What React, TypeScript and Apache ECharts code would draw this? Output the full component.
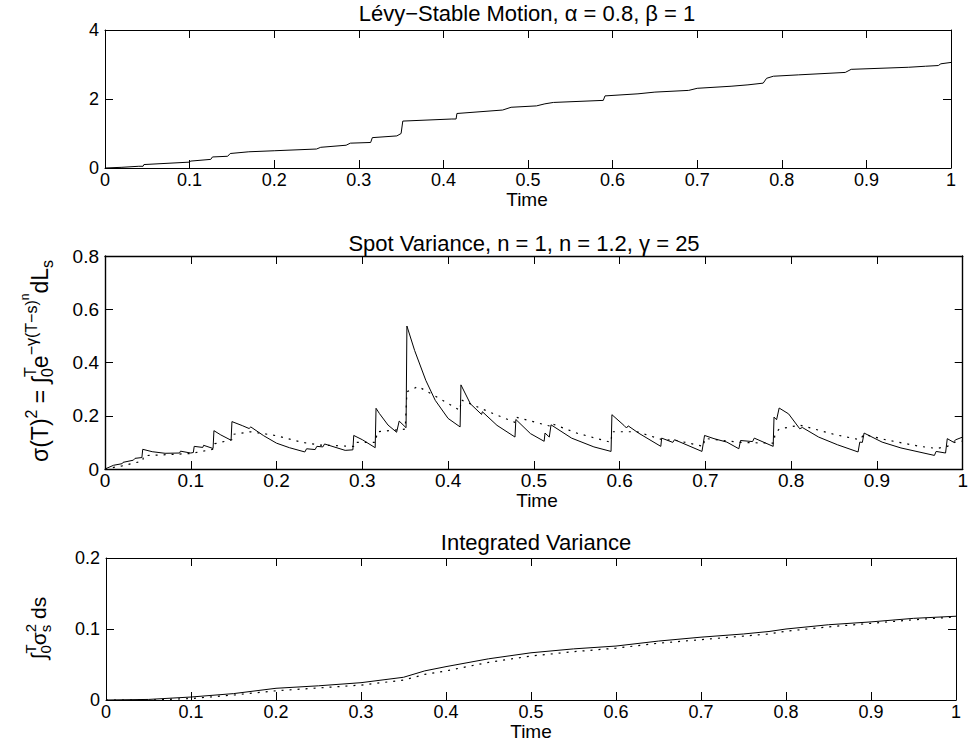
import React, { useEffect, useRef } from "react";
import * as echarts from "echarts";

const FONT_NAME = "Liberation Sans";
const FONT = '"Liberation Sans", Arial, Helvetica, sans-serif';

// ---- Top panel: Lévy-stable motion (alpha = 0.8, beta = 1)
const levyT = [0, 0.02, 0.04, 0.045, 0.046, 0.1, 0.101, 0.125, 0.127, 0.145, 0.148, 0.17, 0.2, 0.25, 0.255, 0.285, 0.29, 0.314, 0.316, 0.345, 0.35, 0.352, 0.41, 0.415, 0.416, 0.47, 0.48, 0.51, 0.52, 0.53, 0.589, 0.591, 0.63, 0.65, 0.69, 0.7, 0.74, 0.76, 0.778, 0.782, 0.79, 0.82, 0.875, 0.882, 0.95, 0.97, 0.985, 0.988, 1];
const levyL = [0, 0.02, 0.05, 0.05, 0.1, 0.17, 0.2, 0.25, 0.32, 0.34, 0.42, 0.47, 0.5, 0.55, 0.6, 0.66, 0.72, 0.74, 0.88, 0.93, 1.0, 1.36, 1.42, 1.42, 1.58, 1.68, 1.76, 1.8, 1.86, 1.9, 1.96, 2.09, 2.15, 2.2, 2.25, 2.31, 2.37, 2.41, 2.46, 2.6, 2.66, 2.7, 2.77, 2.86, 2.92, 2.95, 2.97, 3.02, 3.06];

// ---- Middle panel: spot variance, eta = 1 (solid)
const spotT1 = [0, 0.01, 0.02, 0.021, 0.033, 0.035, 0.043, 0.044, 0.055, 0.07, 0.087, 0.088, 0.1, 0.103, 0.104, 0.114, 0.115, 0.126, 0.127, 0.135, 0.147, 0.148, 0.16, 0.168, 0.17, 0.185, 0.2, 0.215, 0.233, 0.235, 0.245, 0.247, 0.254, 0.256, 0.28, 0.289, 0.29, 0.3, 0.315, 0.316, 0.32, 0.33, 0.34, 0.343, 0.351, 0.352, 0.361, 0.374, 0.385, 0.4, 0.414, 0.415, 0.426, 0.439, 0.44, 0.457, 0.478, 0.479, 0.496, 0.512, 0.513, 0.518, 0.52, 0.544, 0.57, 0.59, 0.591, 0.605, 0.608, 0.61, 0.622, 0.648, 0.649, 0.662, 0.664, 0.696, 0.699, 0.71, 0.725, 0.739, 0.741, 0.755, 0.757, 0.779, 0.78, 0.783, 0.786, 0.797, 0.81, 0.813, 0.832, 0.854, 0.878, 0.88, 0.883, 0.885, 0.906, 0.928, 0.967, 0.969, 0.98, 0.982, 0.989, 0.992, 1.0];
const spotV1 = [0, 0.014, 0.02, 0.025, 0.033, 0.04, 0.043, 0.074, 0.065, 0.059, 0.06, 0.067, 0.06, 0.062, 0.085, 0.081, 0.089, 0.077, 0.144, 0.128, 0.108, 0.178, 0.163, 0.152, 0.158, 0.125, 0.097, 0.08, 0.064, 0.076, 0.073, 0.085, 0.083, 0.094, 0.07, 0.072, 0.126, 0.11, 0.08, 0.228, 0.208, 0.165, 0.138, 0.18, 0.155, 0.537, 0.445, 0.333, 0.258, 0.19, 0.158, 0.316, 0.245, 0.205, 0.215, 0.164, 0.12, 0.186, 0.133, 0.104, 0.135, 0.12, 0.166, 0.116, 0.083, 0.066, 0.204, 0.164, 0.154, 0.162, 0.135, 0.085, 0.116, 0.1, 0.11, 0.066, 0.126, 0.114, 0.101, 0.076, 0.107, 0.103, 0.116, 0.085, 0.195, 0.185, 0.229, 0.207, 0.151, 0.156, 0.12, 0.091, 0.064, 0.101, 0.1, 0.135, 0.101, 0.079, 0.051, 0.066, 0.06, 0.114, 0.101, 0.11, 0.12];

// ---- Middle panel: spot variance, eta = 1.2 (dotted)
const spotT2 = [0, 0.02, 0.044, 0.045, 0.1, 0.127, 0.128, 0.148, 0.149, 0.17, 0.2, 0.23, 0.25, 0.29, 0.291, 0.316, 0.317, 0.35, 0.352, 0.365, 0.39, 0.414, 0.415, 0.44, 0.478, 0.479, 0.52, 0.521, 0.55, 0.59, 0.591, 0.62, 0.65, 0.665, 0.698, 0.699, 0.74, 0.78, 0.781, 0.786, 0.81, 0.85, 0.88, 0.885, 0.91, 0.95, 0.97, 0.982, 0.99, 1.0];
const spotV2 = [0, 0.012, 0.03, 0.05, 0.058, 0.075, 0.095, 0.11, 0.13, 0.14, 0.125, 0.1, 0.09, 0.085, 0.1, 0.1, 0.14, 0.15, 0.29, 0.31, 0.265, 0.22, 0.26, 0.225, 0.175, 0.195, 0.16, 0.17, 0.135, 0.1, 0.14, 0.14, 0.11, 0.108, 0.085, 0.115, 0.1, 0.097, 0.13, 0.15, 0.165, 0.13, 0.11, 0.13, 0.11, 0.085, 0.077, 0.085, 0.1, 0.105];

// ---- Bottom panel: integrated variance
const intT = [0, 0.05, 0.1, 0.15, 0.2, 0.25, 0.3, 0.35, 0.375, 0.4, 0.45, 0.5, 0.55, 0.6, 0.65, 0.7, 0.75, 0.78, 0.8, 0.85, 0.9, 0.95, 1.0];
const intV1 = [0, 0.0008, 0.0042, 0.009, 0.0165, 0.02, 0.0244, 0.032, 0.041, 0.047, 0.058, 0.0665, 0.072, 0.076, 0.083, 0.0885, 0.093, 0.0965, 0.1, 0.106, 0.11, 0.115, 0.118];
const intV2 = [0, 0.0, 0.002, 0.007, 0.013, 0.017, 0.021, 0.028, 0.036, 0.041, 0.053, 0.062, 0.068, 0.073, 0.08, 0.085, 0.09, 0.093, 0.097, 0.103, 0.108, 0.113, 0.117];

// ---- Axis ticks
const xMin = 0, xMax = 1, xStep = 0.1;
const topY = { min: 0, max: 4, step: 2 };
const midY = { min: 0, max: 0.8, step: 0.2 };
const botY = { min: 0, max: 0.2, step: 0.1 };

const titles = [
  "Lévy−Stable Motion, α = 0.8, β = 1",
  "Spot Variance, n = 1, n = 1.2, γ = 25",
  "Integrated Variance",
];
const xName = "Time";

const pair = (xs: number[], ys: number[]) => xs.map((x, i) => [x, ys[i]]);
const fmt = (v: number) => String(+v.toFixed(3));

type Piece = { t: string; s: number; b?: number; adv?: number };

function measurer() {
  const c = document.createElement("canvas");
  const ctx = c.getContext("2d")!;
  return (t: string, s: number) => {
    ctx.font = `${s}px "${FONT_NAME}", Arial, sans-serif`;
    return ctx.measureText(t).width;
  };
}

function mathLabel(pieces: Piece[], gx: number, cy: number, measure: (t: string, s: number) => number) {
  let cur = 0;
  const placed: { p: Piece; x: number }[] = [];
  for (const p of pieces) {
    placed.push({ p, x: cur });
    cur += p.adv !== undefined ? p.adv : measure(p.t, p.s);
  }
  const W = cur;
  return {
    type: "group",
    x: gx,
    y: cy,
    rotation: Math.PI / 2,
    children: placed.map(({ p, x }) => ({
      type: "text",
      x: x - W / 2,
      y: (p.b || 0) - 0.3465 * p.s,
      style: {
        text: p.t,
        font: `${p.s}px ${FONT}`,
        fill: "#000",
        textAlign: "left",
        textVerticalAlign: "middle",
      },
    })),
  };
}

export default function App() {
  const ref = useRef<HTMLDivElement>(null);
  useEffect(() => {
    if (!ref.current) return;
    const chart = echarts.init(ref.current, null, { renderer: "svg" });
    const measure = measurer();

    const grids = [
      { left: 105, top: 30, width: 846, height: 138 },
      { left: 105, top: 256, width: 864, height: 213 },
      { left: 106, top: 558, width: 850, height: 142 },
    ];
    const labelSize = [18, 19, 18];
    const lineW = [1, 1.4, 1];
    const yCfg = [topY, midY, botY];
    const xMargins = [3, 2, 3];

    const xAxis: any[] = [];
    const yAxis: any[] = [];
    grids.forEach((g, i) => {
      const line = { show: true, lineStyle: { color: "#000", width: lineW[i] } };
      const tick = { show: true, inside: true, length: 8, lineStyle: { color: "#000", width: 1 } };
      xAxis.push({
        type: "value", gridIndex: i, min: xMin, max: xMax, interval: xStep, position: "bottom",
        axisLine: { ...line, onZero: false }, axisTick: tick, splitLine: { show: false },
        axisLabel: { color: "#000", fontSize: labelSize[i], fontFamily: FONT, margin: xMargins[i], formatter: fmt },
      });
      xAxis.push({
        type: "value", gridIndex: i, min: xMin, max: xMax, interval: xStep, position: "top",
        axisLine: { ...line, onZero: false }, axisTick: tick, splitLine: { show: false },
        axisLabel: { show: false },
      });
      const yc = yCfg[i];
      yAxis.push({
        type: "value", gridIndex: i, min: yc.min, max: yc.max, interval: yc.step, position: "left",
        axisLine: { ...line, onZero: false }, axisTick: tick, splitLine: { show: false },
        axisLabel: { color: "#000", fontSize: labelSize[i], fontFamily: FONT, margin: 6, formatter: fmt },
      });
      yAxis.push({
        type: "value", gridIndex: i, min: yc.min, max: yc.max, interval: yc.step, position: "right",
        axisLine: { ...line, onZero: false }, axisTick: tick, splitLine: { show: false },
        axisLabel: { show: false },
      });
    });

    const solid = { color: "#000", width: 1 };
    const dotted = { color: "#000", width: 1.2, type: [2, 6] as any };
    const mk = (data: number[][], gi: number, ls: any) => ({
      type: "line", data, xAxisIndex: gi * 2, yAxisIndex: gi * 2, showSymbol: false, symbol: "none",
      lineStyle: ls, silent: true, z: 3,
    });

    const text = (t: string, x: number, y: number, s: number) => ({
      type: "text", x, y,
      style: { text: t, font: `${s}px ${FONT}`, fill: "#000", textAlign: "center", textVerticalAlign: "middle" },
    });

    const midLabel = mathLabel([
      { t: "σ(T)", s: 23 },
      { t: "2", s: 16, b: -11 },
      { t: " = ", s: 23 },
      { t: "∫", s: 23 },
      { t: "T", s: 16, b: -12, adv: 0 },
      { t: "0", s: 16, b: 5 },
      { t: "e", s: 23 },
      { t: "−γ(T−s)", s: 16, b: -11 },
      { t: "n", s: 12, b: -19 },
      { t: "dL", s: 23 },
      { t: "s", s: 16, b: 5 },
    ], 48, 361, measure);

    const botLabel = mathLabel([
      { t: "∫", s: 21 },
      { t: "T", s: 15, b: -10, adv: 0 },
      { t: "0", s: 15, b: 5 },
      { t: "σ", s: 21 },
      { t: "2", s: 15, b: -10, adv: 0 },
      { t: "s", s: 15, b: 5 },
      { t: " ds", s: 21 },
    ], 46, 628, measure);

    chart.setOption({
      animation: false,
      backgroundColor: "#fff",
      grid: grids,
      xAxis,
      yAxis,
      series: [
        mk(pair(levyT, levyL), 0, solid),
        mk(pair(spotT1, spotV1), 1, solid),
        mk(pair(spotT2, spotV2), 1, dotted),
        mk(pair(intT, intV1), 2, solid),
        mk(pair(intT, intV2), 2, dotted),
      ],
      graphic: [
        text(titles[0], 527, 13, 22),
        text(titles[1], 524, 243, 22),
        text(titles[2], 536, 542, 22),
        text(xName, 527, 199, 19),
        text(xName, 537, 500, 19),
        text(xName, 531, 731, 19),
        midLabel,
        botLabel,
      ],
    });
    return () => chart.dispose();
  }, []);
  return <div ref={ref} style={{ position: "fixed", left: 0, top: 0, width: 971, height: 741 }} />;
}
